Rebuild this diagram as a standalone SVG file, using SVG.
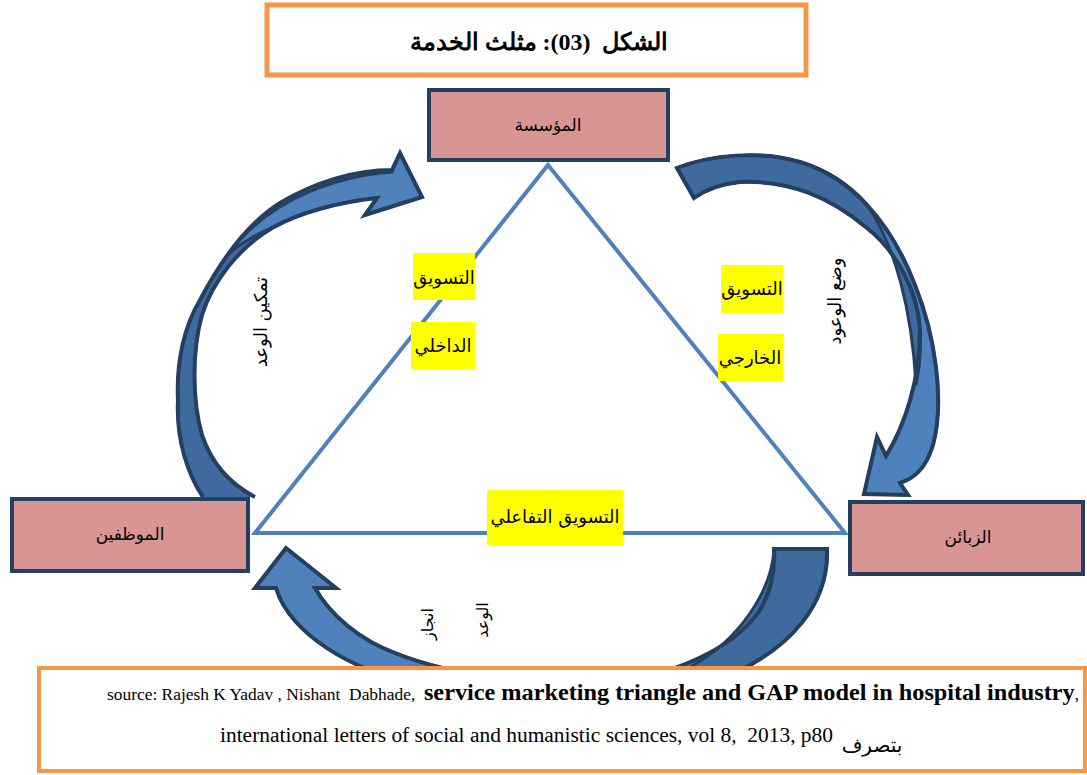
<svg xmlns="http://www.w3.org/2000/svg" width="1087" height="775" viewBox="0 0 1087 775">
  <style>
    .frame { fill: #ffffff; stroke: #F79646; }
    .node rect { fill: #D99594; stroke: #243F60; stroke-width: 4; }
    .ar { font-family: "DejaVu Sans", "Noto Sans", sans-serif; fill: #000000; }
    .lat { font-family: "Liberation Serif", "DejaVu Serif", serif; fill: #000000; white-space: pre; }
    .tag rect { fill: #FFFF00; }
    .edge { fill: none; stroke: #4F81BD; stroke-width: 4; }
    .body-dark { fill: #3F6A9E; }
    .body-light { fill: #4F81BD; stroke: #243F60; stroke-width: 3; stroke-linejoin: round; }
    .outline { fill: none; stroke: #243F60; stroke-width: 4; stroke-linejoin: miter; }
  </style>

  <rect width="1087" height="775" fill="#ffffff"/>

  <!-- title -->
  <g id="title">
    <rect class="frame" x="267" y="5" width="539" height="70" stroke-width="5"/>
    <text class="lat" x="539" y="50" font-size="24" font-weight="bold" text-anchor="middle" direction="rtl" xml:space="preserve">الشكل  (03): مثلث الخدمة</text>
  </g>

  <!-- triangle of relations -->
  <g id="connectors">
    <polygon class="edge" points="548,165 845,533 255,533"/>

    <!-- left curved arrow: employees to organisation -->
    <g id="arrow-left">
      <path class="body-dark" d="M203,497 C188,475 176,440 178,400 C176,360 185,325 200,300 C220,262 245,225 280,203 C315,182 355,170 392,170 L400,153 L422,197 L365,215 L377,198 C340,202 300,212 272,228 C240,247 213,280 202,315 C192,350 192,400 202,435 C212,465 232,485 255,497 Z"/>
      <path class="body-light" d="M377,198 L365,215 L422,197 L400,153 L392,172 C340,176 272,196 228,254 C245,240 258,234 272,228 C300,212 340,202 377,198 Z"/>
      <path class="outline" d="M203,497 C188,475 176,440 178,400 C176,360 185,325 200,300 C220,262 245,225 280,203 C315,182 355,170 392,170 L400,153 L422,197 L365,215 L377,198 C340,202 300,212 272,228 C240,247 213,280 202,315 C192,350 192,400 202,435 C212,465 232,485 255,497"/>
    </g>

    <!-- right curved arrow: organisation to customers -->
    <g id="arrow-right">
      <path class="body-light" d="M694,198 L677,168 C710,155 760,150 800,162 C850,177 890,220 915,285 C935,335 945,400 933,445 C926,468 915,478 900,483 L908,495 L864,494 L877,437 L886,456 C905,425 920,380 920,330 C918,290 895,250 867,228 C830,197 790,180 740,182 C720,184 705,190 694,198 Z"/>
      <path class="body-dark" stroke="#243F60" stroke-width="3" d="M694,198 L677,168 C710,155 760,150 800,162 C830,171 852,187 867,205 C895,245 912,310 916,385 C920,365 921,345 920,330 C918,290 895,250 867,228 C830,197 790,180 740,182 C720,184 705,190 694,198 Z"/>
      <path class="outline" d="M694,198 L677,168 C710,155 760,150 800,162 C850,177 890,220 915,285 C935,335 945,400 933,445 C926,468 915,478 900,483 L908,495 L864,494 L877,437 L886,456 C905,425 920,380 920,330 C918,290 895,250 867,228 C830,197 790,180 740,182 C720,184 705,190 694,198 Z"/>
    </g>

    <!-- bottom curved arrow: customers to employees -->
    <g id="arrow-bottom">
      <path class="body-light" d="M774,549 L827,549 C829,600 795,650 718,680 C650,705 560,708 470,697 C400,688 330,660 296,622 C285,610 279,598 276,588 L255,588 L286,548 L336,588 L315,588 C330,615 360,640 395,653 C450,675 540,688 620,680 C690,672 740,640 760,610 C772,590 775,570 774,549 Z"/>
      <path class="body-dark" stroke="#243F60" stroke-width="3" d="M774,549 L827,549 C829,600 795,650 718,680 C680,694 640,701 600,703 C640,690 665,680 690,667 C740,640 772,590 774,549 Z"/>
      <path class="outline" d="M774,549 L827,549 C829,600 795,650 718,680 C650,705 560,708 470,697 C400,688 330,660 296,622 C285,610 279,598 276,588 L255,588 L286,548 L336,588 L315,588 C330,615 360,640 395,653 C450,675 540,688 620,680 C690,672 740,640 760,610 C772,590 775,570 774,549 Z"/>
    </g>
  </g>

  <!-- nodes -->
  <g id="node-organisation" class="node">
    <rect x="429" y="90" width="239" height="70"/>
    <text class="ar" x="548" y="131" font-size="17" text-anchor="middle" direction="rtl">المؤسسة</text>
  </g>
  <g id="node-employees" class="node">
    <rect x="12" y="499" width="236" height="72"/>
    <text class="ar" x="130" y="540" font-size="17" text-anchor="middle" direction="rtl">الموظفين</text>
  </g>
  <g id="node-customers" class="node">
    <rect x="850" y="502" width="233" height="72"/>
    <text class="ar" x="968" y="543" font-size="17" text-anchor="middle" direction="rtl">الزبائن</text>
  </g>

  <!-- highlighted edge labels -->
  <g id="label-internal" class="tag">
    <rect x="413" y="253" width="62" height="47"/>
    <text class="ar" x="444" y="284" font-size="18" text-anchor="middle" direction="rtl">التسويق</text>
    <rect x="411" y="322" width="64" height="47"/>
    <text class="ar" x="443" y="352" font-size="18" text-anchor="middle" direction="rtl">الداخلي</text>
  </g>
  <g id="label-external" class="tag">
    <rect x="721" y="265" width="62" height="48"/>
    <text class="ar" x="752" y="295" font-size="18" text-anchor="middle" direction="rtl">التسويق</text>
    <rect x="718" y="334" width="65" height="47"/>
    <text class="ar" x="750" y="364" font-size="18" text-anchor="middle" direction="rtl">الخارجي</text>
  </g>
  <g id="label-interactive" class="tag">
    <rect x="487" y="490" width="136" height="55"/>
    <text class="ar" x="555" y="523" font-size="18" text-anchor="middle" direction="rtl">التسويق التفاعلي</text>
  </g>

  <!-- arrow captions -->
  <g id="caption-enable">
    <text class="ar" transform="translate(262,322) rotate(-90)" font-size="18" text-anchor="middle" dominant-baseline="middle" direction="rtl">تمكين الوعد</text>
  </g>
  <g id="caption-make">
    <text class="ar" transform="translate(836,301) rotate(-90)" font-size="18" text-anchor="middle" dominant-baseline="middle" direction="rtl">وضع الوعود</text>
  </g>
  <g id="caption-deliver">
    <text class="ar" transform="translate(428,624) rotate(-90)" font-size="16" text-anchor="middle" dominant-baseline="middle" direction="rtl">انجاز</text>
    <text class="ar" transform="translate(483,620) rotate(-90)" font-size="16" text-anchor="middle" dominant-baseline="middle" direction="rtl">الوعد</text>
  </g>

  <!-- source note -->
  <g id="source">
    <rect class="frame" x="39" y="668" width="1046" height="103" stroke-width="4"/>
    <text class="lat" x="107" y="700" font-size="16.5" textLength="972" lengthAdjust="spacingAndGlyphs" xml:space="preserve">source: Rajesh K Yadav , Nishant  Dabhade,  <tspan font-size="23" font-weight="bold">service marketing triangle and GAP model in hospital industry</tspan>,</text>
    <text class="lat" x="220" y="742" font-size="20" textLength="613" lengthAdjust="spacingAndGlyphs" xml:space="preserve">international letters of social and humanistic sciences, vol 8,  2013, p80</text>
    <text class="ar" x="872" y="752" font-size="20" text-anchor="middle" direction="rtl">بتصرف</text>
  </g>
</svg>
